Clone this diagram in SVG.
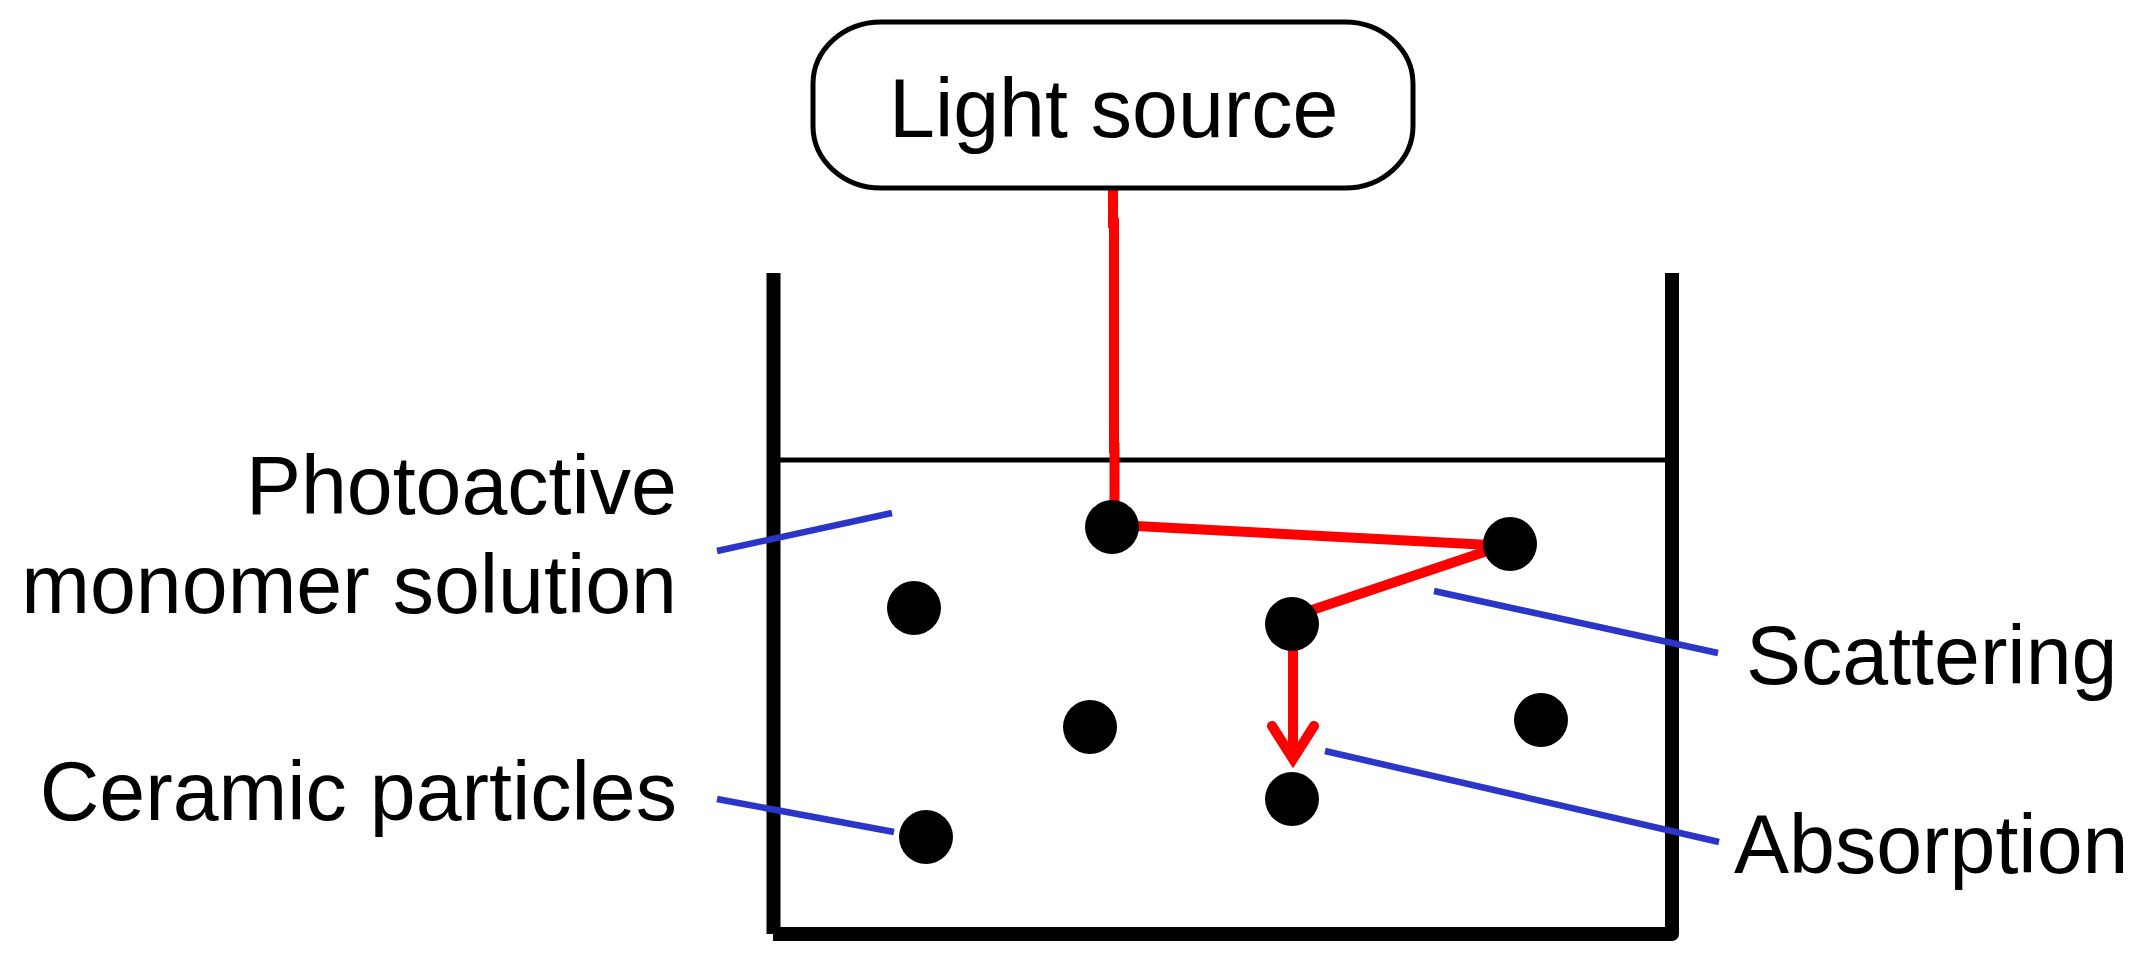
<svg xmlns="http://www.w3.org/2000/svg" width="2142" height="964" viewBox="0 0 2142 964">
<style>
.label{font-family:"Liberation Sans",Arial,sans-serif;font-size:82.500px;fill:#000}
.end{text-anchor:end}
.wall{fill:none;stroke:#000;stroke-width:14;stroke-linejoin:round}
.ray{fill:none;stroke:#f00;stroke-width:10;stroke-linejoin:miter}
.lead{fill:none;stroke:#2b35c8;stroke-width:6.500}
.particle{fill:#000}
</style>
<rect width="2142" height="964" fill="#fff"/>
<g id="tank">
<path class="wall" d="M773.500 273V934"/>
<path class="wall" d="M773 934H1672V273"/>
<path d="M780 460H1666" fill="none" stroke="#000" stroke-width="5"/>
</g>
<g id="connectors">
<polyline class="ray" points="1113,188 1113,223 1114,223 1114,448 1114.500,448 1114.500,505"/>
<line class="ray" x1="1136" y1="526" x2="1490" y2="545"/>
<line class="ray" x1="1490" y1="550" x2="1312" y2="610"/>
<line class="ray" x1="1293" y1="648" x2="1293" y2="755"/>
<polyline class="ray" points="1272,726 1293,759 1314,726" stroke-linecap="round"/>
<line class="lead" x1="717" y1="551" x2="892" y2="513"/>
<line class="lead" x1="717" y1="799" x2="894" y2="832"/>
<line class="lead" x1="1434" y1="591" x2="1718" y2="653"/>
<line class="lead" x1="1325" y1="751" x2="1719" y2="842"/>
</g>
<g id="light-source">
<rect x="813" y="22" width="600" height="166" rx="68" ry="62" fill="#fff" stroke="#000" stroke-width="5"/>
<text class="label" x="889" y="137">Light source</text>
</g>
<g id="particles">
<circle id="particle-1" class="particle" cx="1112" cy="527" r="27"/>
<circle id="particle-2" class="particle" cx="1510" cy="544" r="27"/>
<circle id="particle-3" class="particle" cx="1292" cy="624" r="27"/>
<circle id="particle-4" class="particle" cx="914" cy="608" r="27"/>
<circle id="particle-5" class="particle" cx="1090" cy="727" r="27"/>
<circle id="particle-6" class="particle" cx="1541" cy="720" r="27"/>
<circle id="particle-7" class="particle" cx="1292" cy="799" r="27"/>
<circle id="particle-8" class="particle" cx="926" cy="837" r="27"/>
</g>
<g id="label-monomer">
<text class="label end" x="677" y="514">Photoactive</text>
<text class="label end" x="677" y="613">monomer solution</text>
</g>
<g id="label-ceramic"><text class="label end" x="677" y="820">Ceramic particles</text></g>
<g id="label-scattering"><text class="label" x="1746" y="684">Scattering</text></g>
<g id="label-absorption"><text class="label" x="1734" y="873">Absorption</text></g>
</svg>
